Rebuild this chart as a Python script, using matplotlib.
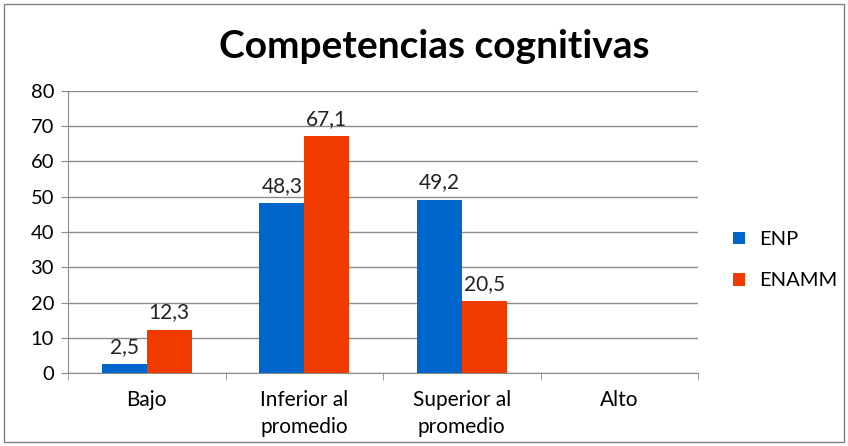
import numpy as np
import matplotlib.pyplot as plt
from matplotlib.patches import Rectangle

categorias = ["Bajo", "Inferior al\npromedio", "Superior al\npromedio", "Alto"]
enp = [2.5, 48.3, 49.2, np.nan]
enamm = [12.3, 67.1, 20.5, np.nan]
series = ["ENP", "ENAMM"]
colores = ["#0066CC", "#F03A00"]

plt.rcParams['font.family'] = ['Lato', 'DejaVu Sans']

fig = plt.figure(figsize=(8.48, 4.46), dpi=100)
ax = fig.add_axes([68 / 848, 73 / 446, 630 / 848, 282 / 446])

x = np.arange(len(categorias))
w = 0.285
for i, (vals, nombre, col) in enumerate(zip([enp, enamm], series, colores)):
    pos = x + (i - 0.5) * w
    ax.bar(pos, vals, w, color=col, label=nombre, zorder=3)
    for p, v in zip(pos, vals):
        if not np.isnan(v):
            ax.text(p, v + 2, f"{v:.1f}".replace(".", ","), ha="center", va="bottom",
                    fontsize=15, color="#222222")

ax.set_xlim(-0.5, len(categorias) - 0.5)
ax.set_ylim(0, 80)
ax.set_yticks(range(0, 81, 10))
ax.yaxis.grid(True, color="#8c8c8c", linewidth=1, zorder=0)
ax.set_xticks(x)
ax.set_xticklabels(categorias, fontsize=15, linespacing=1.45)
ax.set_xticks(np.arange(-0.5, len(categorias)), minor=True)
ax.tick_params(axis="x", which="major", length=0, pad=12)
ax.tick_params(axis="x", which="minor", length=5, color="#8c8c8c")
ax.tick_params(axis="y", length=5, color="#8c8c8c", labelsize=14.5, pad=5)
for s in ["top", "right"]:
    ax.spines[s].set_visible(False)
for s in ["left", "bottom"]:
    ax.spines[s].set_color("#8c8c8c")

fig.text(0.512, 0.895, "Competencias cognitivas", ha="center", va="center",
         fontsize=28, fontweight="bold")

ax.legend(loc="center left", bbox_to_anchor=(1.027, 0.4), frameon=False,
          fontsize=14.5, handlelength=0.6, handleheight=0.6, labelspacing=1.2,
          handletextpad=0.7)

fig.patches.append(Rectangle((4 / 848, 4 / 446), 840 / 848, 438 / 446, transform=fig.transFigure,
                             fill=False, edgecolor="#808080", linewidth=1))

fig.savefig("out.png", dpi=100)
